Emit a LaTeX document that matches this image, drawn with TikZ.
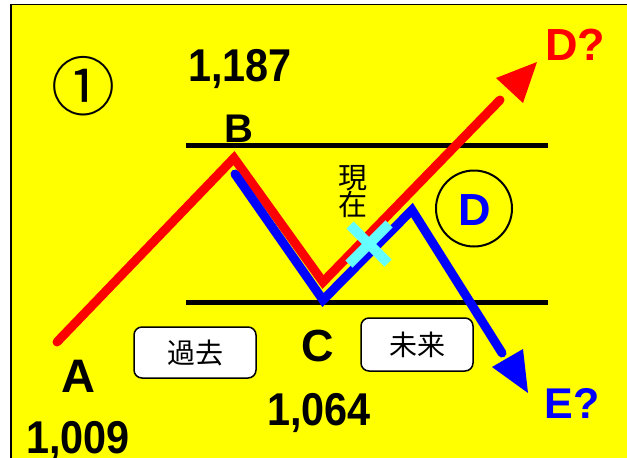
\documentclass[tikz,border=0pt]{standalone}
\usepackage{fontspec}
\setmainfont{Liberation Sans}
\newfontfamily\jpfont{Noto Sans CJK JP}
\newfontfamily\numfont[FakeStretch=0.9]{Liberation Sans}
\newcommand\fsz[1]{\fontsize{#1}{#1}\selectfont}
\definecolor{bgyellow}{HTML}{FFFF00}
\definecolor{cyanx}{HTML}{66FFFF}
\definecolor{pure red}{HTML}{FF0000}
\definecolor{pure blue}{HTML}{0000FF}
\tikzset{
  numtext/.style={font=\numfont\bfseries\fsz{46}, inner sep=0pt, anchor=base},
  lettertext/.style={inner sep=0pt, anchor=base},
  levelline/.style={line width=5pt, black},
  redpath/.style={line width=9pt, pure red, line cap=round, line join=miter},
  bluepath/.style={line width=9pt, pure blue, line cap=round, line join=miter},
  crossline/.style={line width=10pt, cyanx},
  labelbox/.style={draw, line width=1.5pt, fill=white, rounded corners=8pt, inner sep=0pt,
    font=\jpfont\fsz{28}}
}
\begin{document}
\begin{tikzpicture}[x=1pt,y=-1pt]
\useasboundingbox (0,0) rectangle (627,458);
\fill[white] (0,0) rectangle (627,458);
\fill[bgyellow] (11,4) rectangle (628,459);
\draw[line width=1.5pt] (11,459) -- (11,4.5) -- (628,4.5);

% level lines
\coordinate (t1) at (186,145.5);
\coordinate (t2) at (548,145.5);
\coordinate (b1) at (186,302);
\coordinate (b2) at (548,302);
\draw[levelline] (t1) -- (t2);
\draw[levelline] (b1) -- (b2);

% red path
\coordinate (pA) at (57,342);
\coordinate (pB) at (234,158);
\coordinate (pC) at (323,282);
\coordinate (pR) at (500,100);
\coordinate (rt) at (537,62);
\coordinate (rl) at (496,78);
\coordinate (rb) at (523,103);
\draw[redpath] (pA) -- (pB) -- (pC) -- (pR);
\fill[pure red] (rt) -- (rl) -- (rb) -- cycle;

% blue path
\coordinate (q0) at (235,174);
\coordinate (q1) at (323,300);
\coordinate (q2) at (412,210);
\coordinate (q3) at (502,353);
\coordinate (bt) at (528,393);
\coordinate (bl) at (492,367);
\coordinate (bu) at (523,349);
\draw[bluepath] (q0) -- (q1) -- (q2) -- (q3);
\fill[pure blue] (bt) -- (bl) -- (bu) -- cycle;

% cross (now)
\coordinate (x1) at (350,225);
\coordinate (x2) at (388,263);
\coordinate (x3) at (389,224);
\coordinate (x4) at (349,264);
\draw[crossline] (x1) -- (x2);
\draw[crossline] (x3) -- (x4);

% labels
\node[font=\jpfont\fsz{64}, inner sep=0pt] (circ1) at (83,86) {①};
\node[numtext] (vB) at (240,81) {1,187};
\node[numtext] (vA) at (78,453) {1,009};
\node[numtext] (vC) at (319,425) {1,064};
\node[lettertext, font=\bfseries\fsz{40}] (lB) at (239,142) {B};
\node[lettertext, font=\bfseries\fsz{47}] (lA) at (78,392) {A};
\node[lettertext, font=\bfseries\fsz{45}] (lC) at (318,361) {C};
\node[lettertext, font=\bfseries\fsz{45}, text=pure red] (lD) at (575,60) {D?};
\node[lettertext, font=\bfseries\fsz{43}, text=pure blue] (lE) at (572,418) {E?};

\node[draw, circle, line width=2pt, minimum size=76pt, inner sep=0pt] (dcirc) at (474,208.5) {};
\node[lettertext, font=\bfseries\fsz{45}, text=pure blue] (dlabel) at (475,225) {D};

\node[font=\jpfont\fontsize{29}{27}\selectfont, align=center, inner sep=0pt] (now) at (353,192) {現\\在};

\node[labelbox, minimum width=122pt, minimum height=51pt] (past) at (195,352.5) {過去};
\node[labelbox, minimum width=112pt, minimum height=53pt] (future) at (417,344.5) {未来};
\end{tikzpicture}
\end{document}
